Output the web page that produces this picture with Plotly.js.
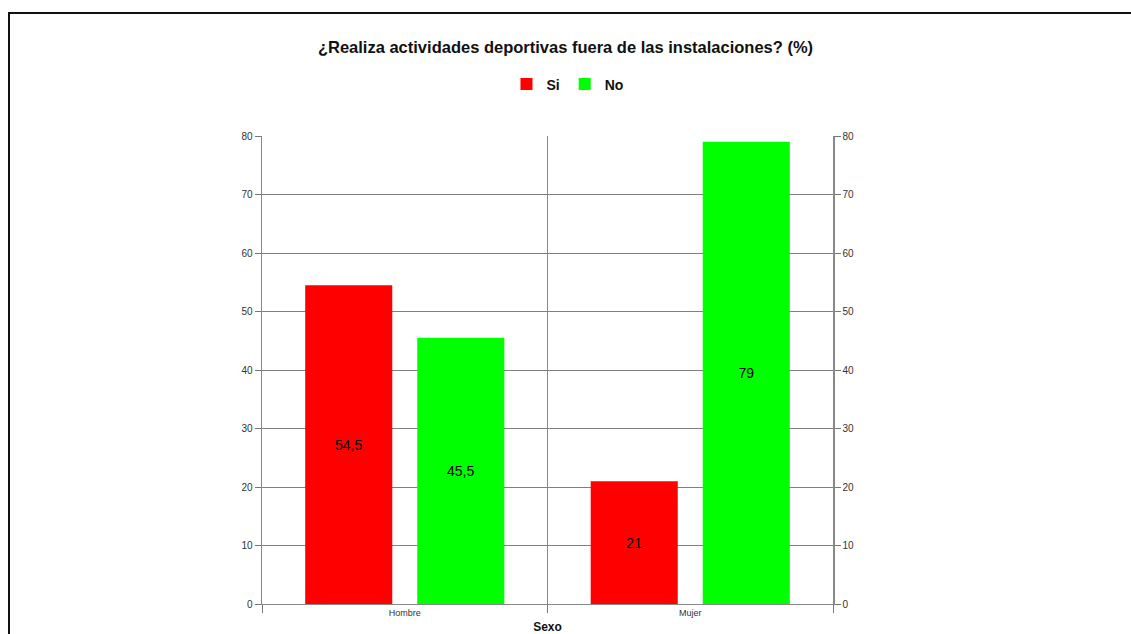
<!DOCTYPE html>
<html>
<head>
<meta charset="utf-8">
<script src="https://cdn.plot.ly/plotly-3.0.1.min.js"></script>
<style>
  html, body { margin: 0; padding: 0; overflow: hidden; background: #fff; }
  #chart { width: 1131px; height: 634px; }
  #frame { position: absolute; left: 8px; top: 12px; width: 1200px; height: 700px;
           border: 2px solid #111; pointer-events: none; }
</style>
</head>
<body>
<div id="chart"></div>
<div id="frame"></div>
<script>
// Share of respondents who practise sport outside the facilities, by sex (%)
const categories = ['Hombre', 'Mujer'];
const siValues = [54.5, 21];
const noValues = [45.5, 79];
const yTicks = [0, 10, 20, 30, 40, 50, 60, 70, 80];

const fmt = v => String(v).replace('.', ',');

const labelFont = { family: 'Liberation Sans, Arial, sans-serif', size: 14, color: '#000' };

const traces = [
  {
    type: 'bar', name: 'Si', x: categories, y: siValues,
    marker: { color: '#ff0000' },
    text: siValues.map(fmt), textposition: 'inside', insidetextanchor: 'middle',
    textfont: labelFont, hoverinfo: 'x+y'
  },
  {
    type: 'bar', name: 'No', x: categories, y: noValues,
    marker: { color: '#00ff00' },
    text: noValues.map(fmt), textposition: 'inside', insidetextanchor: 'middle',
    textfont: labelFont, hoverinfo: 'x+y'
  }
];

const tickFont = { family: 'Liberation Sans, Arial, sans-serif', size: 10, color: '#333' };

const layout = {
  width: 1131, height: 634,
  margin: { l: 262, r: 298, t: 136, b: 30, pad: 0 },
  paper_bgcolor: '#fff', plot_bgcolor: '#fff',
  font: { family: 'Liberation Sans, Arial, sans-serif' },
  title: {
    text: '<b>¿Realiza actividades deportivas fuera de las instalaciones? (%)</b>',
    font: { size: 16.5, color: '#111' },
    x: 0.5, xanchor: 'center', y: 0.925, yanchor: 'middle'
  },
  showlegend: true,
  legend: {
    orientation: 'h', x: 0.535, xanchor: 'center', y: 1.11, yanchor: 'middle',
    font: { size: 14, color: '#111', weight: 'bold' },
    itemwidth: 30, traceorder: 'normal'
  },
  barmode: 'group',
  bargap: 0.215,
  bargroupgap: 0.223,
  xaxis: {
    type: 'category',
    tickson: 'boundaries',
    ticks: 'outside', ticklen: 8, tickcolor: '#777', tickwidth: 1,
    showgrid: true, gridcolor: '#888', gridwidth: 1.5,
    showline: true, linecolor: '#888', linewidth: 1,
    tickfont: { family: 'Liberation Sans, Arial, sans-serif', size: 9, color: '#333' },
    title: { text: '<b>Sexo</b>', font: { size: 12, color: '#111' }, standoff: 12 },
    automargin: false, fixedrange: true
  },
  yaxis: {
    range: [0, 80], tickvals: yTicks,
    ticks: 'outside', ticklen: 6, tickcolor: '#777',
    showgrid: true, gridcolor: '#808080', gridwidth: 1,
    showline: true, linecolor: '#888', linewidth: 1.5,
    zeroline: false,
    tickfont: tickFont, ticklabelstandoff: 0,
    automargin: false, fixedrange: true
  },
  yaxis2: {
    overlaying: 'y', side: 'right', matches: 'y',
    range: [0, 80], tickvals: yTicks,
    ticks: 'outside', ticklen: 6, tickcolor: '#777',
    showgrid: false, showline: true, linecolor: '#888', linewidth: 1.5,
    zeroline: false,
    tickfont: tickFont, ticklabelstandoff: 0,
    automargin: false, fixedrange: true
  }
};

// invisible companion trace so the right-hand axis is rendered
traces.push({
  type: 'scatter', x: categories, y: [null, null], yaxis: 'y2',
  showlegend: false, hoverinfo: 'skip', mode: 'markers'
});

Plotly.newPlot('chart', traces, layout, { displayModeBar: false, staticPlot: true });
</script>
</body>
</html>
